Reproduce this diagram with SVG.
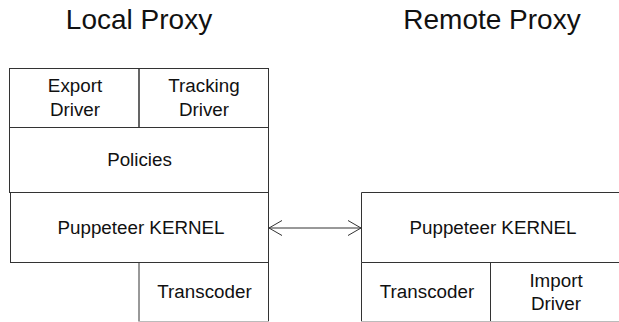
<svg xmlns="http://www.w3.org/2000/svg" width="619" height="322" viewBox="0 0 619 322">
<style>
.b{fill:none;stroke:#333;stroke-width:1}
.t{font-family:"Liberation Sans",Arial,sans-serif;font-size:18.8px;fill:#111;text-anchor:middle}
.h{font-family:"Liberation Sans",Arial,sans-serif;font-size:28px;fill:#111;text-anchor:middle}
.c{fill:none;stroke:#333;stroke-width:1}
.g{fill:none;stroke:#bbb;stroke-width:1}
</style>
<rect width="619" height="322" fill="#fff"/>
<text class="h" x="139" y="29">Local Proxy</text>
<text class="h" x="492" y="29">Remote Proxy</text>
<g id="export-driver"><rect class="b" x="9.500" y="68.500" width="129.500" height="59"/><text class="t" x="75" y="92">Export</text><text class="t" x="75" y="116">Driver</text></g>
<g id="tracking-driver"><rect class="b" x="139" y="68.500" width="129.500" height="59"/><text class="t" x="204" y="92">Tracking</text><text class="t" x="204" y="116">Driver</text></g>
<g id="policies"><rect class="b" x="9.500" y="127.500" width="259" height="65"/><text class="t" x="139.500" y="166">Policies</text></g>
<g id="local-kernel"><rect class="b" x="10.500" y="192.500" width="258" height="70"/><text class="t" x="141" y="233.500">Puppeteer KERNEL</text></g>
<g id="local-transcoder"><path class="b" d="M139 262.500V321.500M268.500 262.500V321.500"/><path class="g" d="M139 321.500H269"/><text class="t" x="204.500" y="298">Transcoder</text></g>
<g id="remote-kernel"><path class="b" d="M620 192.500H361.500V262.500H620"/><text class="t" x="493" y="234">Puppeteer KERNEL</text></g>
<g id="remote-transcoder"><path class="b" d="M361.500 262.500V321.500"/><path class="g" d="M361 321.500H490"/><text class="t" x="427" y="298">Transcoder</text></g>
<g id="import-driver"><path class="b" d="M490.500 262.500V321.500"/><path class="g" d="M490 321.500H620"/><text class="t" x="556" y="287">Import</text><text class="t" x="556" y="310">Driver</text></g>
<g id="connectors"><path class="c" d="M269 228H361M282 220.500L269 228L282 235.500M348 220.500L361 228L348 235.500"/></g>
</svg>
